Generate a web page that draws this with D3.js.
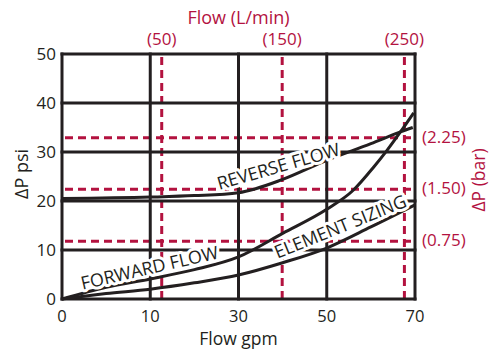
<!DOCTYPE html>
<html>
<head>
<meta charset="utf-8">
<script src="https://cdn.jsdelivr.net/npm/d3@7"></script>
<style>
  body { margin: 0; background: #fff; }
  svg { display: block; font-family: "Open Sans", sans-serif; }
</style>
</head>
<body>
<svg id="chart"></svg>
<script>
// axis ticks (the gpm axis is spaced evenly even though 0-10 is a shorter step)
const flowTicks = [0, 10, 30, 50, 70];
const psiTicks = [0, 10, 20, 30, 40, 50];
const lpmTicks = [50, 150, 250];
const lpmAtGpm = [12.6, 39.9, 67.6];   // where the L/min guides sit on the gpm axis
const barTicks = [0.75, 1.5, 2.25];
const barAtPsi = [11.8, 22.4, 32.9];   // where the bar guides sit on the psi axis

// curves, [gpm, psi]
const reverseFlow = [[0, 20.5], [10, 20.8], [20, 21.1], [30, 21.7], [40, 24.4], [50, 28.3], [60, 31.7], [66.7, 34.1], [69.5, 35.0]];
const forwardFlow = [[0, 0], [5, 2.4], [10, 4.1], [20, 6.0], [30, 8.6], [40, 13.4], [50, 18.3], [56, 22.2], [60.7, 27.0], [63.7, 30.4], [66.7, 34.1], [69.7, 38.0]];
const elementSizing = [[0, 0], [5, 1.1], [10, 2.0], [20, 3.3], [30, 4.9], [40, 7.4], [50, 10.4], [60, 14.7], [70, 19.2]];

// labels along the curves: text, gpm, psi, angle
const curveLabels = [
  { text: "REVERSE FLOW", gpm: 39.0, psi: 27.2, angle: -16 },
  { text: "FORWARD FLOW", gpm: 9.9, psi: 6.5, angle: -13 },
  { text: "ELEMENT SIZING", gpm: 53.0, psi: 14.9, angle: -22 }
];

const width = 491, height = 349;
const margin = { top: 54, right: 76, bottom: 50, left: 62 };
const plotW = width - margin.left - margin.right;
const plotH = height - margin.top - margin.bottom;
const black = "#231f20";
const red = "#b3123f";

const svg = d3.select("#chart").attr("width", width).attr("height", height);

const x = d3.scaleLinear()
  .domain(flowTicks)
  .range(flowTicks.map((d, i) => margin.left + i * plotW / (flowTicks.length - 1)));
const y = d3.scaleLinear().domain([0, 50]).range([margin.top + plotH, margin.top]);
const xTop = d3.scaleLinear().domain(lpmTicks).range(lpmAtGpm.map(x));
const yRight = d3.scaleLinear().domain(barTicks).range(barAtPsi.map(y));

// red dashed metric guides
const guides = svg.append("g")
  .attr("stroke", red)
  .attr("stroke-width", 3)
  .attr("stroke-dasharray", "8,5");
guides.selectAll("line.v")
  .data(lpmTicks)
  .join("line")
  .attr("class", "v")
  .attr("x1", d => xTop(d)).attr("x2", d => xTop(d))
  .attr("y1", y(50) + 3).attr("y2", y(0));
guides.selectAll("line.h")
  .data(barTicks)
  .join("line")
  .attr("class", "h")
  .attr("x1", x(0) + 3).attr("x2", x(70))
  .attr("y1", d => yRight(d)).attr("y2", d => yRight(d));

// black grid + frame
const grid = svg.append("g").attr("stroke", black).attr("stroke-width", 3);
grid.selectAll("line.gx")
  .data(flowTicks)
  .join("line")
  .attr("class", "gx")
  .attr("x1", d => x(d)).attr("x2", d => x(d))
  .attr("y1", y(50) - 1.5).attr("y2", y(0) + 1.5);
grid.selectAll("line.gy")
  .data(psiTicks)
  .join("line")
  .attr("class", "gy")
  .attr("x1", x(0) - 1.5).attr("x2", x(70) + 1.5)
  .attr("y1", d => y(d)).attr("y2", d => y(d));

// curves
const line = d3.line()
  .x(d => x(d[0]))
  .y(d => y(d[1]))
  .curve(d3.curveMonotoneX);
svg.append("g")
  .selectAll("path")
  .data([reverseFlow, forwardFlow, elementSizing])
  .join("path")
  .attr("d", line)
  .attr("fill", "none")
  .attr("stroke", black)
  .attr("stroke-width", 3);

// curve labels with a white knock-out
svg.append("g")
  .selectAll("text")
  .data(curveLabels)
  .join("text")
  .attr("transform", d => `translate(${x(d.gpm)},${y(d.psi)}) rotate(${d.angle})`)
  .attr("text-anchor", "middle")
  .attr("dominant-baseline", "central")
  .attr("font-size", 18)
  .attr("fill", black)
  .attr("stroke", "#fff")
  .attr("stroke-width", 6)
  .attr("stroke-linejoin", "round")
  .attr("paint-order", "stroke")
  .text(d => d.text);

// left ticks
svg.append("g")
  .selectAll("text")
  .data(psiTicks)
  .join("text")
  .attr("x", margin.left - 6)
  .attr("y", d => y(d))
  .attr("dy", "0.35em")
  .attr("text-anchor", "end")
  .attr("font-size", 17)
  .attr("fill", black)
  .text(d => d);

// bottom ticks
svg.append("g")
  .selectAll("text")
  .data(flowTicks)
  .join("text")
  .attr("x", d => x(d))
  .attr("y", y(0) + 23)
  .attr("text-anchor", "middle")
  .attr("font-size", 16.5)
  .attr("fill", black)
  .text(d => d);

// top ticks (L/min)
svg.append("g")
  .selectAll("text")
  .data(lpmTicks)
  .join("text")
  .attr("x", d => xTop(d))
  .attr("y", margin.top - 9)
  .attr("text-anchor", "middle")
  .attr("font-size", 17)
  .attr("fill", red)
  .text(d => `(${d})`);

// right ticks (bar)
svg.append("g")
  .selectAll("text")
  .data(barTicks)
  .join("text")
  .attr("x", x(70) + 7)
  .attr("y", d => yRight(d) - 1)
  .attr("dy", "0.35em")
  .attr("font-size", 17)
  .attr("fill", red)
  .text(d => `(${d3.format(".2f")(d)})`);

// axis titles
svg.append("text")
  .attr("x", margin.left + plotW / 2)
  .attr("y", 345)
  .attr("text-anchor", "middle")
  .attr("font-size", 17.5)
  .attr("fill", black)
  .text("Flow gpm");
svg.append("text")
  .attr("x", margin.left + plotW / 2)
  .attr("y", 24)
  .attr("text-anchor", "middle")
  .attr("font-size", 18)
  .attr("fill", red)
  .text("Flow (L/min)");
svg.append("text")
  .attr("transform", `translate(28,174) rotate(-90)`)
  .attr("text-anchor", "middle")
  .attr("font-size", 18)
  .attr("fill", black)
  .text("ΔP psi");
svg.append("text")
  .attr("transform", `translate(485,180) rotate(-90)`)
  .attr("text-anchor", "middle")
  .attr("font-size", 17.5)
  .attr("fill", red)
  .text("ΔP (bar)");
</script>
</body>
</html>
